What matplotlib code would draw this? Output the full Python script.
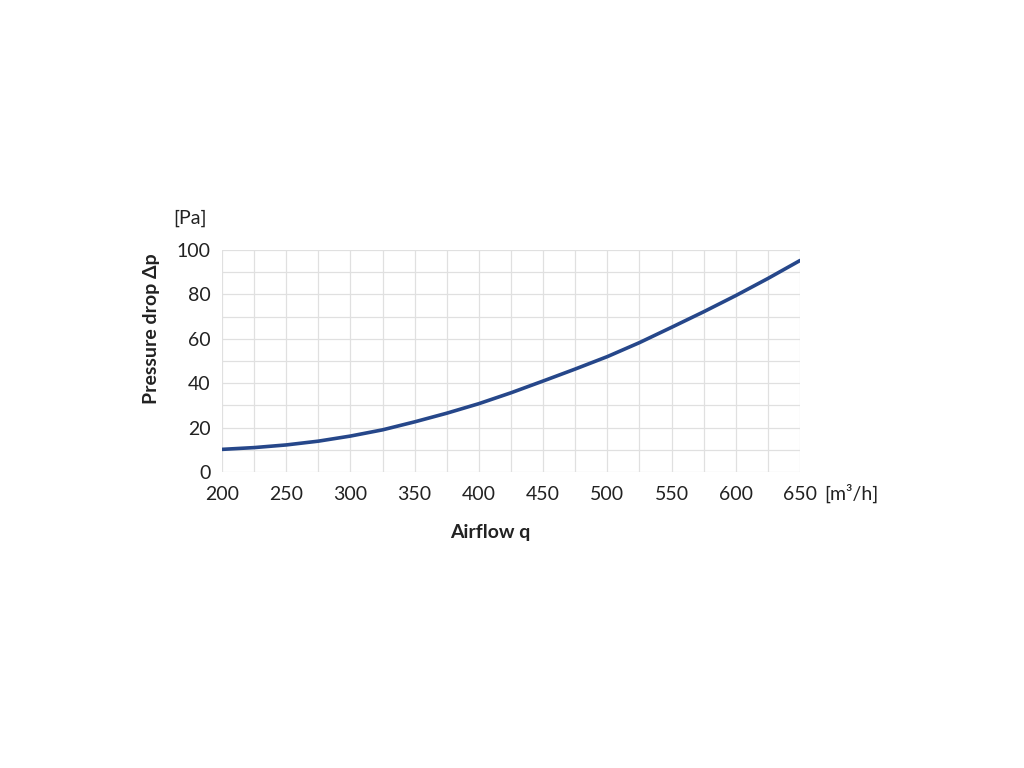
import numpy as np
import matplotlib
matplotlib.use("Agg")
import matplotlib.pyplot as plt
from matplotlib.ticker import MultipleLocator

# airflow [m3/h] and pressure drop [Pa]
airflow = [200, 225, 250, 275, 300, 325, 350, 375, 400, 425, 450, 475, 500, 525, 550, 575, 600, 625, 650]
pressure = [10.2, 11.0, 12.2, 13.9, 16.2, 19.0, 22.6, 26.5, 30.8, 35.7, 41.0, 46.4, 52.0, 58.3, 65.2, 72.2, 79.5, 87.2, 95.3]

plt.rcParams['font.family'] = ['Lato', 'DejaVu Sans']

fig = plt.figure(figsize=(10.24, 7.68), dpi=100)
ax = fig.add_axes([0.2168, 0.3854, 0.5645, 0.289])

ax.plot(airflow, pressure, color='#26478a', lw=2.6, solid_capstyle='round', zorder=3)

ax.set_xlim(200, 650)
ax.set_ylim(0, 100)
ax.xaxis.set_major_locator(MultipleLocator(50))
ax.xaxis.set_minor_locator(MultipleLocator(25))
ax.yaxis.set_major_locator(MultipleLocator(20))
ax.yaxis.set_minor_locator(MultipleLocator(10))
ax.grid(which='both', color='#e0e0e0', lw=0.9)
ax.set_axisbelow(True)
for s in ax.spines.values():
    s.set_visible(False)
ax.tick_params(which='both', length=0, labelsize=14, colors='#222222')
ax.tick_params(axis='x', pad=10)
ax.tick_params(axis='y', pad=8)

fig.text(0.1855, 0.716, '[Pa]', fontsize=14, color='#222222', ha='center', va='center')
fig.text(0.8315, 0.357, '[m³/h]', fontsize=14, color='#222222', ha='center', va='center')
fig.text(0.148, 0.572, 'Pressure drop Δp', fontsize=14, fontweight='bold', color='#222222',
         rotation=90, ha='center', va='center')
fig.text(0.479, 0.306, 'Airflow q', fontsize=14, fontweight='bold', color='#222222',
         ha='center', va='center')

fig.savefig('out.png', dpi=100)
